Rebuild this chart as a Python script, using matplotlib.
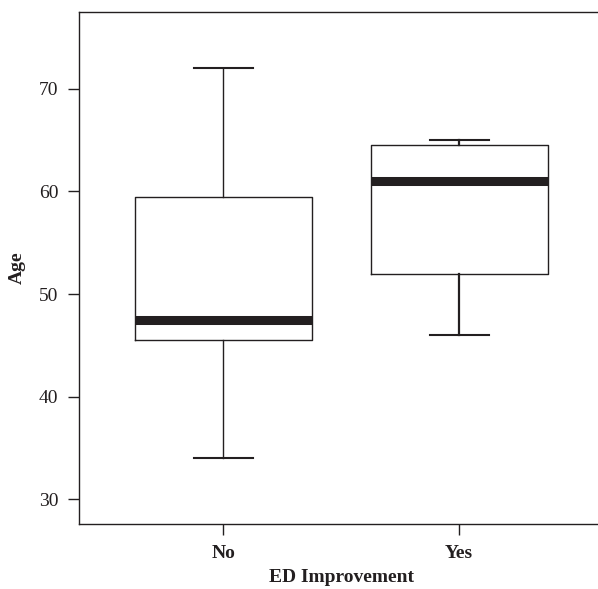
import matplotlib
matplotlib.use("Agg")
import matplotlib.pyplot as plt

# box plot summary
groups = ["No", "Yes"]
whislo = [34, 46]
q1 = [45.5, 52]
med = [47.5, 61]
q3 = [59.5, 64.5]
whishi = [72, 65]
yticks = [30, 40, 50, 60, 70]

ink = "#231f20"
plt.rcParams["font.family"] = ["Liberation Serif", "DejaVu Serif"]

fig = plt.figure(figsize=(5.98, 5.89), dpi=100)
ax = fig.add_axes([0.1321, 0.1098, 0.877, 0.8703])

stats = []
for i in range(len(groups)):
    stats.append(dict(label=groups[i], whislo=whislo[i], q1=q1[i], med=med[i],
                      q3=q3[i], whishi=whishi[i], fliers=[]))

bp = ax.bxp(stats, positions=[1, 2], widths=0.75, capwidths=0.25,
            showfliers=False, patch_artist=False,
            boxprops=dict(color=ink, linewidth=1.0),
            whiskerprops=dict(color=ink, linewidth=1.0),
            capprops=dict(color=ink, linewidth=1.5),
            medianprops=dict(color=ink, linewidth=6.5, solid_capstyle="butt"))

# the "Yes" whiskers print a bit heavier
for ln in bp["whiskers"][2:]:
    ln.set_linewidth(1.6)

ax.set_xlim(0.388, 2.612)
ax.set_ylim(27.56, 77.52)
ax.set_yticks(yticks)
ax.set_xticks([1, 2])
ax.set_xticklabels(groups, fontweight="bold")

for s in ["left", "bottom", "top"]:
    ax.spines[s].set_color(ink)
    ax.spines[s].set_linewidth(1.0)
ax.spines["right"].set_visible(False)

ax.tick_params(axis="both", colors=ink, labelsize=14, length=8, width=1.0, pad=7)
ax.set_ylabel("Age", fontsize=14, fontweight="bold", color=ink, labelpad=9)
ax.set_xlabel("ED Improvement", fontsize=14, fontweight="bold", color=ink, labelpad=5)

fig.savefig("out.png", dpi=100)
